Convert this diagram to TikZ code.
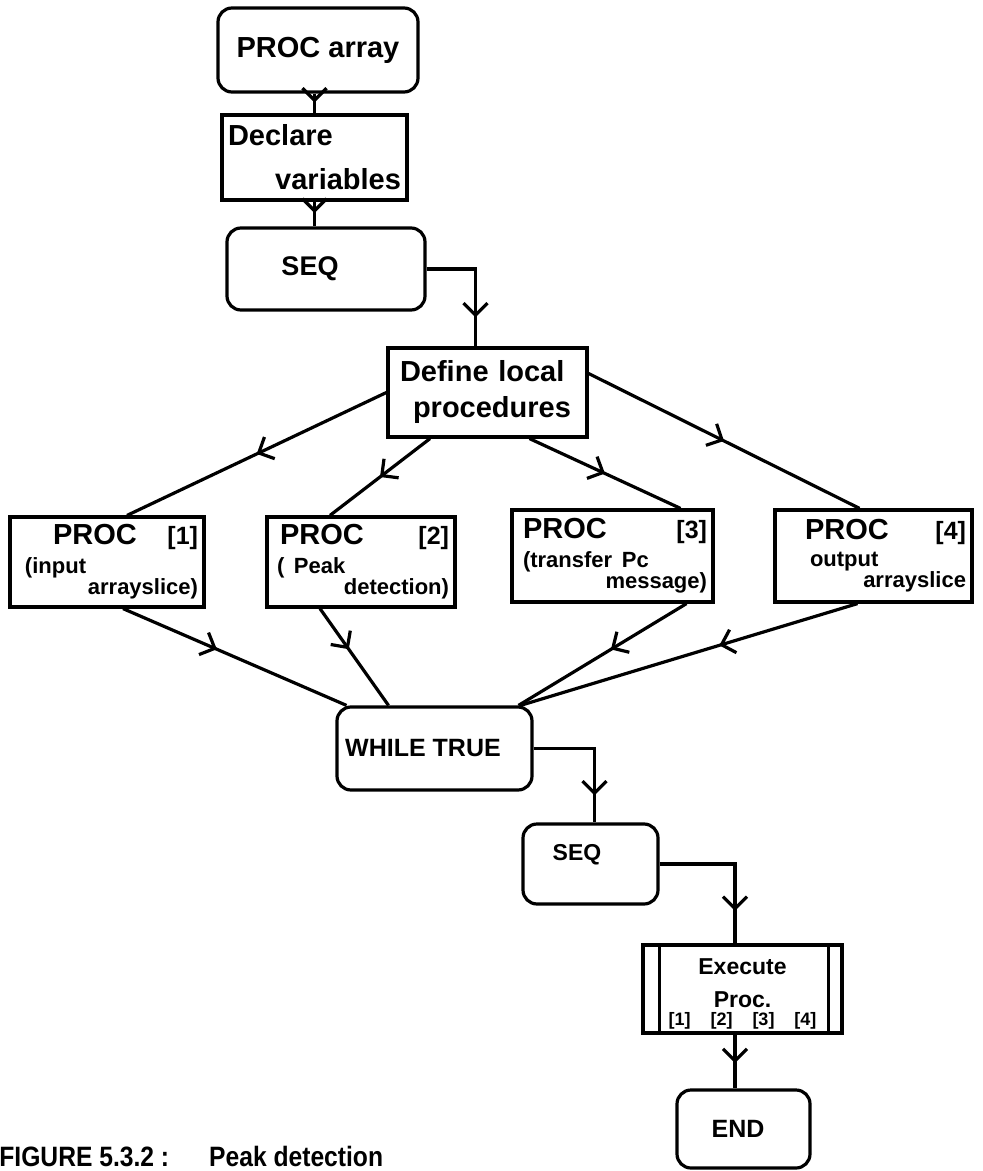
\documentclass[tikz,border=0pt]{standalone}
\usepackage{fontspec}
\setmainfont{Liberation Sans}
\newfontfamily\capfamily[FakeStretch=0.88]{Liberation Sans}
\usetikzlibrary{arrows.meta,decorations.markings}
\setlength{\parindent}{0pt}

\newcommand{\bigfont}{\fontsize{14.5}{17}\selectfont\bfseries}
\newcommand{\midfont}{\fontsize{12.5}{14}\selectfont\bfseries}
\newcommand{\subfont}{\fontsize{11}{10.5}\selectfont\bfseries}

\tikzset{
  term/.style={draw, line width=1.6pt, rounded corners=7pt, inner sep=0pt},
  block/.style={draw, line width=1.6pt, inner sep=3pt},
  procbox/.style={block, text width=#1, align=left, font=\bigfont},
  flow/.style={line width=1.6pt},
  midarrow/.style={postaction={decorate},
    decoration={markings,
      mark=at position #1 with {\arrow{Straight Barb[length=6pt,width=12pt]}}}},
  midarrow/.default=0.5
}

\begin{document}
\begin{tikzpicture}[x=0.5pt, y=-0.5pt]
  \useasboundingbox (0,0) rectangle (983,1171);

  % main line
  \node[term, font=\bigfont, minimum width=100pt, minimum height=42pt] (start) at (318,50) {PROC array};
  \node[block, font=\bigfont, text width=86.5pt, minimum height=42.5pt, align=left] (decl) at (314.5,157.5)
    {Declare\\[5pt]\hspace*{\fill}variables};
  \node[term, font=\fontsize{13.5}{16}\selectfont\bfseries, minimum width=99pt, minimum height=41pt] (seq1) at (326,269)
    {SEQ\kern16pt};
  \node[block, font=\bigfont, text width=93.5pt, minimum height=44.5pt, align=left] (def) at (487.5,392.5)
    {\hspace*{3pt}Define local\\[1pt]\hspace*{9.5pt}procedures};

  % the four local procedures
  \node[procbox=91pt, minimum height=45pt] (p1) at (107,562)
    {\hspace*{18.5pt}PROC\hfill{\midfont [1]}\\[3pt]
     \subfont\hspace*{4.5pt}(input\\[-6.5pt]
     \hspace*{\fill}arrayslice)};
  \node[procbox=88pt, minimum height=45pt] (p2) at (361,562)
    {\hspace*{3.5pt}PROC\hfill{\midfont [2]}\\[3pt]
     \subfont\hspace*{2pt}( Peak\\[-6.5pt]
     \hspace*{\fill}detection)};
  \node[procbox=94.5pt, minimum height=46pt] (p3) at (612.5,556)
    {\hspace*{2.5pt}PROC\hfill{\midfont [3]}\\[3pt]
     \subfont\hspace*{2.5pt}(transfer Pc\\[-6.5pt]
     \hspace*{\fill}message)};
  \node[procbox=92.5pt, minimum height=46pt] (p4) at (873.5,556)
    {\hspace*{12pt}PROC\hfill{\midfont [4]}\\[3pt]
     \subfont\hspace*{14.5pt}output\\[-6.5pt]
     \hspace*{\fill}arrayslice};

  % loop body
  \node[term, font=\midfont, minimum width=97.5pt, minimum height=41.5pt] (loop) at (434.5,748.5)
    {WHILE TRUE\kern11.5pt};
  \node[term, font=\fontsize{11.5}{14}\selectfont\bfseries, minimum width=67.5pt, minimum height=40pt, text depth=12pt] (seq2) at (590.5,864)
    {SEQ\kern13.5pt};
  \node[block, inner ysep=0pt, font=\fontsize{11.5}{13}\selectfont\bfseries, minimum width=99.5pt, minimum height=44pt, align=center] (exe) at (742.5,989)
    {\rule{0pt}{13pt}Execute\\[3.5pt]Proc.\\[-4pt]{\fontsize{9}{11}\selectfont [1]\hspace{10pt}[2]\hspace{10pt}[3]\hspace{10pt}[4]}};
  \draw[flow] ([xshift=9pt]exe.north west) -- ([xshift=9pt]exe.south west);
  \draw[flow] ([xshift=-7.5pt]exe.north east) -- ([xshift=-7.5pt]exe.south east);
  \node[term, font=\midfont, minimum width=66.5pt, minimum height=39pt] (stop) at (743.5,1129)
    {END\kern5.5pt};

  \node[anchor=west, inner sep=0pt, font=\capfamily\fontsize{14}{16}\selectfont\bfseries] (cap) at (-1,1156)
    {FIGURE 5.3.2 :\hspace{20pt}Peak detection};

  % connectors
  \draw[flow, midarrow=0.45] (decl.north |- start.south) -- (decl.north);
  \draw[flow, midarrow=0.46] (decl.south) -- (decl.south |- seq1.north);
  \draw[flow, midarrow=0.77] (seq1.east) -| ([xshift=-6pt]def.north);
  \draw[flow, midarrow] (def.west) -- ([xshift=10pt]p1.north);
  \draw[flow, midarrow] ([xshift=-28.75pt]def.south) -- ([xshift=-15.5pt]p2.north);
  \draw[flow, midarrow] ([xshift=21pt]def.south) -- ([xshift=34pt]p3.north);
  \draw[flow, midarrow] ([yshift=9.5pt]def.east) -- ([xshift=-7pt]p4.north);
  \draw[flow, midarrow=0.42] ([xshift=8pt]p1.south) -- ([xshift=-44pt]loop.north);
  \draw[flow, midarrow=0.42] ([xshift=-20.5pt]p2.south) -- ([xshift=-23pt]loop.north);
  \draw[flow, midarrow=0.45] ([xshift=37pt]p3.south) -- ([xshift=42pt]loop.north);
  \draw[flow, midarrow=0.41] ([xshift=-8pt]p4.south) -- ([xshift=43pt]loop.north);
  \draw[flow, midarrow=0.8] (loop.east) -| ([xshift=2pt]seq2.north);
  \draw[flow, midarrow=0.79] (seq2.east) -| ([xshift=-3.75pt]exe.north);
  \draw[flow, midarrow=0.53] ([xshift=-3.75pt]exe.south) -- ([xshift=-3.75pt]exe.south |- stop.north);
\end{tikzpicture}
\end{document}
